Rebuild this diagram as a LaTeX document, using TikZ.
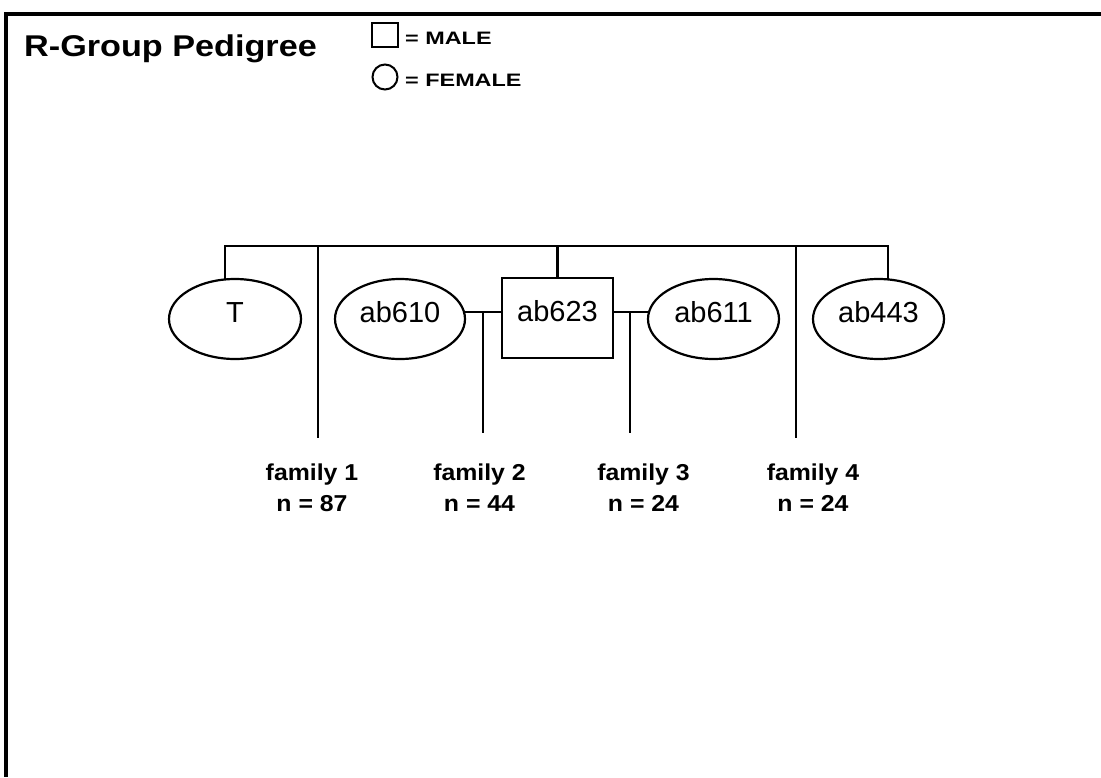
\documentclass[tikz,border=0pt]{standalone}
\usepackage{fontspec}
\setmainfont{Liberation Sans}
\usetikzlibrary{shapes.geometric}
\newcommand{\hstretch}[2]{\scalebox{#1}[1]{#2}}
\tikzset{
  ln/.style={line width=2.6pt, line cap=rect},
  fem/.style={ellipse, draw, line width=2.2pt, minimum width=132pt, minimum height=80pt, inner sep=0pt,
              font=\fontsize{29}{30}\selectfont, text height=20pt, text depth=14pt},
  mal/.style={rectangle, draw, line width=2.2pt, minimum width=111pt, minimum height=80pt, inner sep=0pt,
              font=\fontsize{29}{30}\selectfont, text height=20pt, text depth=14pt},
  famlabel/.style={anchor=north, inner sep=0pt, align=center, font=\fontsize{23}{31}\selectfont\bfseries},
  legtext/.style={anchor=base west, inner sep=0pt, font=\fontsize{18}{20}\selectfont\bfseries},
}
\begin{document}
\begin{tikzpicture}[x=1pt,y=-1pt]
\useasboundingbox (0,0) rectangle (1101,777);
% frame
\coordinate (frTL) at (6,14);
\coordinate (frTR) at (1101,14);
\coordinate (frBL) at (6,777);
\draw[line width=3.2pt] (frTR) -- (frTL) -- (frBL);
% title and legend
\node[anchor=base west, inner sep=0pt, font=\fontsize{30}{32}\selectfont\bfseries] (title) at (24,56) {\hstretch{1.14}{R-Group Pedigree}};
\node[draw, line width=2pt, minimum width=26pt, minimum height=24pt, inner sep=0pt] (legM) at (385,35) {};
\node[circle, draw, line width=2pt, minimum size=25pt, inner sep=0pt] (legF) at (385,77) {};
\node[legtext] (legMt) at (405,44) {\hstretch{1.3}{= MALE}};
\node[legtext] (legFt) at (405,86) {\hstretch{1.3}{= FEMALE}};
% individuals
\node[fem] (T) at (235,319) {T};
\node[fem, minimum width=130pt] (ab610) at (400,319) {ab610};
\node[mal] (ab623) at (557.5,318) {ab623};
\node[fem, minimum width=131pt] (ab611) at (713.5,319) {ab611};
\node[fem, minimum width=131pt] (ab443) at (878.5,319) {ab443};
% sibship line
\coordinate (sL) at (225,246);
\coordinate (sR) at (888,246);
\coordinate (s1) at (318,246);
\coordinate (s4) at (796,246);
\draw[ln] (sL) -- (sR);
\draw[ln] (sL) -- (sL |- T.north);
\draw[ln] (sR) -- (sR |- ab443.north);
\draw[ln] (ab623.north |- sL) -- (ab623.north);
% marriage lines
\draw[ln] (ab610.6) -- (ab610.6 -| ab623.west);
\draw[ln] (ab611.174 -| ab623.east) -- (ab611.174);
\coordinate (m2) at (483,312);
\coordinate (m3) at (630,312);
% descent lines
\coordinate (e1) at (318,437);
\coordinate (e2) at (483,432);
\coordinate (e3) at (630,432);
\coordinate (e4) at (796,437);
\draw[ln] (s1) -- (e1);
\draw[ln] (m2) -- (e2);
\draw[ln] (m3) -- (e3);
\draw[ln] (s4) -- (e4);
% family labels
\node[famlabel] (f1) at (312,464) {\hstretch{1.08}{family 1}\\\hstretch{1.08}{n = 87}};
\node[famlabel] (f2) at (479.5,464) {\hstretch{1.08}{family 2}\\\hstretch{1.08}{n = 44}};
\node[famlabel] (f3) at (643.5,464) {\hstretch{1.08}{family 3}\\\hstretch{1.08}{n = 24}};
\node[famlabel] (f4) at (813,464) {\hstretch{1.08}{family 4}\\\hstretch{1.08}{n = 24}};
\end{tikzpicture}
\end{document}
